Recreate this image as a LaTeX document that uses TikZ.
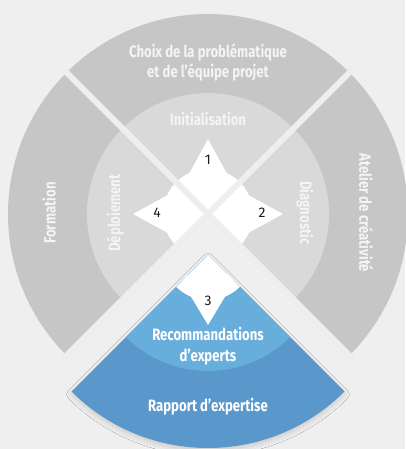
\documentclass[tikz,border=0pt]{standalone}
\usepackage{fontspec}
\newfontfamily\dinc[FakeStretch=0.8]{Fira Sans}
\newfontfamily\numf{Fira Sans}
\usetikzlibrary{shadows.blur}
\definecolor{bgc}{HTML}{EFEFEF}
\definecolor{outg}{HTML}{C6C6C6}
\definecolor{inng}{HTML}{D9D9D9}
\definecolor{gapc}{HTML}{EEEEEE}
\definecolor{bdark}{HTML}{5A97CB}
\definecolor{blight}{HTML}{68AEDC}
\definecolor{txtg}{HTML}{F4F4F4}
\definecolor{numc}{HTML}{1A1A1A}
\begin{document}
\begin{tikzpicture}[x=1bp,y=1bp,
  lbl/.style={font=\dinc\bfseries\fontsize{16.5}{21}\selectfont, text=txtg, align=center, inner sep=0pt},
  blbl/.style={lbl, text=white},
  numlbl/.style={font=\numf\fontsize{14}{14}\selectfont, text=numc, inner sep=0pt},
  gapline/.style={draw=gapc, line width=6bp}]
\useasboundingbox (0,0) rectangle (405,449);
\fill[bgc] (0,0) rectangle (405,449);
\coordinate (C) at (208,235);
% gray quadrants
\foreach \m in {90,0,180} {
  \begin{scope}[shift={(208,235)}]
    \fill[outg] (0,0) -- (\m-45:200) arc[start angle=\m-45, end angle=\m+45, radius=200] -- cycle;
    \fill[inng] (0,0) -- (\m-45:121) arc[start angle=\m-45, end angle=\m+45, radius=121] -- cycle;
    \begin{scope}
      \clip (0,0) -- (\m-45:120) -- (\m+45:120) -- cycle;
      \fill[white] (0,0) circle (45);
      \fill[white, rotate=\m-90] (0,75) -- (30,20) -- (-30,20) -- cycle;
    \end{scope}
  \end{scope}
}
% gaps
\begin{scope}[shift={(208,235)}]
  \coordinate (g1a) at (45:205);
  \coordinate (g1b) at (225:205);
  \coordinate (g2a) at (135:205);
  \coordinate (g2b) at (315:205);
\end{scope}
\draw[gapline] (g1a) -- (g1b);
\draw[gapline] (g2a) -- (g2b);
% blue exploded quadrant
\begin{scope}[shift={(208,194)}]
  \fill[bdark, blur shadow={shadow blur radius=5bp, shadow xshift=0bp, shadow yshift=-3bp, shadow opacity=15}]
    (0,0) -- (225:193) arc[start angle=225, end angle=315, radius=193] -- cycle;
  \fill[blight] (0,0) -- (225:116) arc[start angle=225, end angle=315, radius=116] -- cycle;
  \begin{scope}
    \clip (0,0) -- (225:120) -- (315:120) -- cycle;
    \fill[white] (0,0) circle (45);
    \fill[white] (0,-70) -- (30,-20) -- (-30,-20) -- cycle;
  \end{scope}
\end{scope}
% labels
\node[lbl] (choix) at (208,386.5) {Choix de la problématique\\et de l’équipe projet};
\node[lbl] (init) at (208,330) {Initialisation};
\node[lbl, rotate=90] (form) at (49,236) {Formation};
\node[lbl, rotate=90] (depl) at (115,236) {Déploiement};
\node[lbl, rotate=-90] (diag) at (305,236) {Diagnostic};
\node[lbl, rotate=-90] (atel) at (366,236) {Atelier de créativité};
\node[blbl] (reco) at (208,103) {Recommandations\\d’experts};
\node[blbl] (rapp) at (208,42) {Rapport d’expertise};
\node[numlbl] (n1) at (208,289) {1};
\node[numlbl] (n2) at (262,236) {2};
\node[numlbl] (n4) at (157,236) {4};
\node[numlbl] (n3) at (208,148) {3};
\end{tikzpicture}
\end{document}
